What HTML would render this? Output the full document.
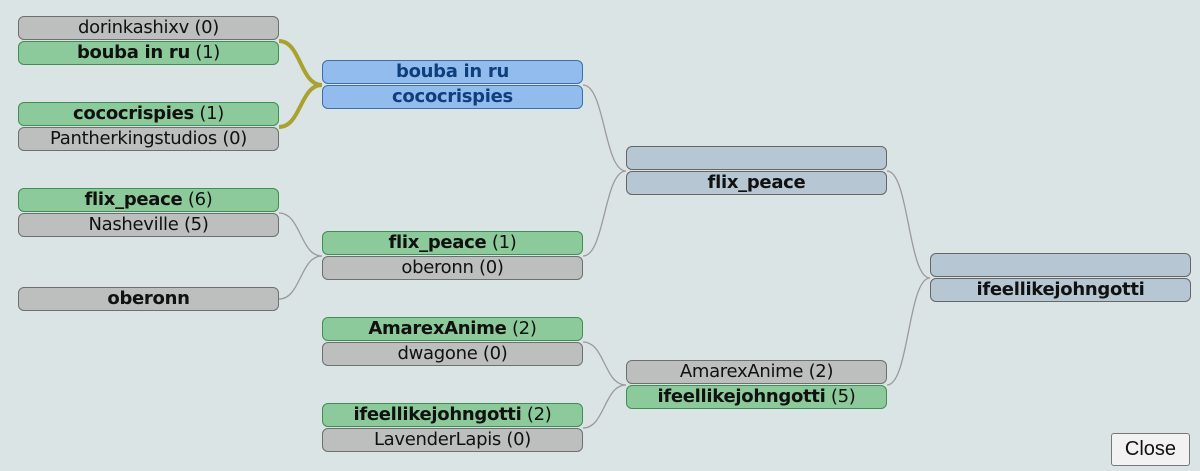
<!DOCTYPE html>
<html><head><meta charset="utf-8"><style>
html,body{margin:0;padding:0}
body{width:1200px;height:471px;background:#dbe4e5;position:relative;overflow:hidden;font-family:"DejaVu Sans","Liberation Sans",sans-serif;font-size:18px}
.b{position:absolute;width:259px;height:22px;border:1px solid #6f6f6f;border-radius:6px;text-align:center;line-height:22px;color:#111;box-sizing:content-box;white-space:nowrap;letter-spacing:-0.3px}
.g{background:#bdbebe}
.w{background:#8dca9b;border-color:#3f8e52}
.u{background:#93bcee;border-color:#3d6ea8;color:#0f3e7c;font-weight:bold}
.s{background:#b6c7d3;border-color:#666}
b{font-weight:bold}
svg{position:absolute;left:0;top:0}
.close{position:absolute;left:1111px;top:433px;width:77px;height:31px;border:1px solid #777;border-radius:3px;background:#f2f2f2;font-family:"Liberation Sans",sans-serif;font-size:20px;text-align:center;line-height:31px;color:#111}
</style></head><body>
<svg width="1200" height="471">
<g fill="none" stroke="#9a9a9a" stroke-width="1.3">
<path d="M279 213 C301 213 300 256 322 256"/>
<path d="M279 299 C301 299 300 256 322 256"/>
<path d="M583 85 C605 85 604 171 626 171"/>
<path d="M583 256 C605 256 604 171 626 171"/>
<path d="M583 342 C605 342 604 385 626 385"/>
<path d="M583 428 C605 428 604 385 626 385"/>
<path d="M887 171 C909 171 908 278 930 278"/>
<path d="M887 385 C909 385 908 278 930 278"/>
</g>
<g fill="none" stroke="#a9a231" stroke-width="4">
<path d="M279 41 C301 41 300 85 322 85"/>
<path d="M279 127 C301 127 300 85 322 85"/>
</g>
</svg>
<div class="b g" style="left:18px;top:16px">dorinkashixv (0)</div>
<div class="b w" style="left:18px;top:41px"><b>bouba in ru</b> (1)</div>
<div class="b w" style="left:18px;top:102px"><b>cococrispies</b> (1)</div>
<div class="b g" style="left:18px;top:127px">Pantherkingstudios (0)</div>
<div class="b w" style="left:18px;top:188px"><b>flix_peace</b> (6)</div>
<div class="b g" style="left:18px;top:213px">Nasheville (5)</div>
<div class="b g" style="left:18px;top:287px"><b>oberonn</b></div>

<div class="b u" style="left:322px;top:60px">bouba in ru</div>
<div class="b u" style="left:322px;top:85px">cococrispies</div>
<div class="b w" style="left:322px;top:231px"><b>flix_peace</b> (1)</div>
<div class="b g" style="left:322px;top:256px">oberonn (0)</div>
<div class="b w" style="left:322px;top:317px"><b>AmarexAnime</b> (2)</div>
<div class="b g" style="left:322px;top:342px">dwagone (0)</div>
<div class="b w" style="left:322px;top:403px"><b>ifeellikejohngotti</b> (2)</div>
<div class="b g" style="left:322px;top:428px">LavenderLapis (0)</div>

<div class="b s" style="left:626px;top:146px"></div>
<div class="b s" style="left:626px;top:171px"><b>flix_peace</b></div>
<div class="b g" style="left:626px;top:360px">AmarexAnime (2)</div>
<div class="b w" style="left:626px;top:385px"><b>ifeellikejohngotti</b> (5)</div>

<div class="b s" style="left:930px;top:253px"></div>
<div class="b s" style="left:930px;top:278px"><b>ifeellikejohngotti</b></div>

<div class="close">Close</div>
</body></html>
